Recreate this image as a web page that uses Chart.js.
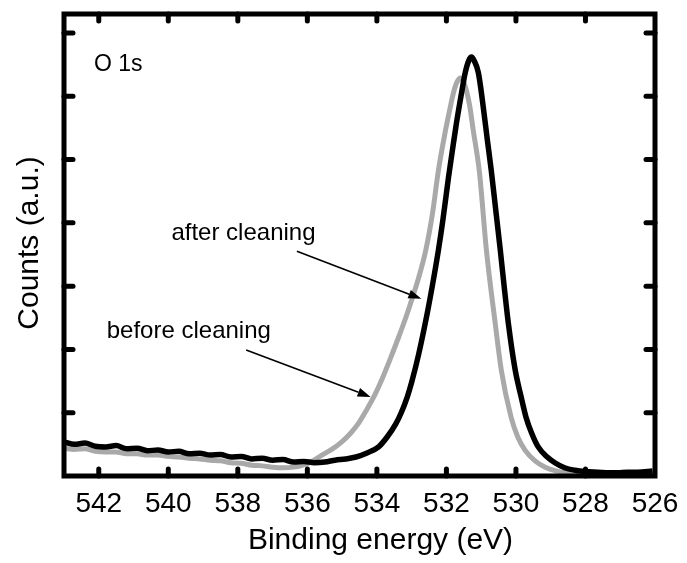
<!DOCTYPE html>
<html><head><meta charset="utf-8">
<script src="https://cdn.jsdelivr.net/npm/chart.js@4"></script>
<style>html,body{margin:0;padding:0;background:#fff}</style>
</head><body>
<canvas id="c" width="687" height="563"></canvas>
<script>
// ---- data (binding energy in eV, counts in arbitrary units) ----
const energyAfter = [543.0,542.7,542.4,542.1,541.8,541.5,541.2,540.9,540.6,540.3,540.0,539.7,539.4,539.1,538.8,538.5,538.2,537.9,537.6,537.3,537.0,536.7,536.4,536.1,535.8,535.5,535.2,534.9,534.6,534.3,533.95,533.7,533.46,533.3,533.12,533.0,532.8,532.57,532.4,532.23,532.1,531.94,531.8,531.71,531.55,531.46,531.36,531.28,531.2,531.08,530.94,530.82,530.71,530.58,530.45,530.33,530.22,530.02,529.85,529.71,529.55,529.36,529.1,528.88,528.6,528.3,528.0,527.64,527.3,527.07,526.8,526.5,526.07];
const countsAfter = [0.54,0.50,0.52,0.47,0.46,0.48,0.43,0.44,0.40,0.41,0.38,0.39,0.35,0.36,0.33,0.34,0.30,0.31,0.27,0.28,0.25,0.26,0.22,0.23,0.21,0.22,0.25,0.27,0.30,0.36,0.46,0.62,0.82,1.00,1.26,1.48,1.92,2.52,3.02,3.57,4.05,4.72,5.25,5.58,6.10,6.37,6.56,6.62,6.56,6.37,5.83,5.30,4.83,4.20,3.57,2.95,2.42,1.67,1.25,0.93,0.68,0.46,0.30,0.21,0.13,0.09,0.07,0.06,0.05,0.05,0.06,0.06,0.08];
const energyBefore = [543.0,542.7,542.4,542.1,541.8,541.5,541.2,540.9,540.6,540.3,540.0,539.7,539.4,539.1,538.8,538.5,538.2,537.9,537.6,537.3,537.0,536.7,536.4,536.15,535.9,535.58,535.3,535.01,534.75,534.52,534.3,534.06,533.86,533.58,533.37,533.17,533.03,532.8,532.6,532.4,532.23,532.03,531.9,531.8,531.7,531.6,531.5,531.43,531.33,531.23,531.05,530.85,530.6,530.42,530.14,529.95,529.74,529.45,529.16,528.85,528.59,528.0,527.65,527.0,526.5,526.07];
const countsBefore = [0.44,0.42,0.43,0.39,0.38,0.38,0.35,0.35,0.33,0.33,0.31,0.30,0.28,0.27,0.25,0.24,0.21,0.20,0.17,0.16,0.14,0.13,0.14,0.17,0.22,0.33,0.42,0.54,0.68,0.84,1.04,1.28,1.52,1.90,2.20,2.50,2.73,3.13,3.55,4.15,4.83,5.45,5.80,6.05,6.22,6.29,6.22,6.10,5.85,5.47,4.80,3.57,2.43,1.67,0.93,0.62,0.41,0.24,0.14,0.08,0.05,0.04,0.03,0.04,0.05,0.05];
const seriesNames = ['after cleaning', 'before cleaning'];
const xTickValues = [542,540,538,536,534,532,530,528,526];
const xTickLabels = ['542','540','538','536','534','532','530','528','526'];
const yTickValues = [1,2,3,4,5,6,7];
const panelLabel = 'O 1s';
const xTitle = 'Binding energy (eV)';
const yTitle = 'Counts (a.u.)';
// annotation anchors in data coordinates [energy, counts]
const labelAfterAt = [539.91, 3.73];
const labelBeforeAt = [541.77, 2.18];
const panelLabelAt = [542.14, 6.40];
const arrowAfter = [[536.30, 3.55], [532.72, 2.80]];
const arrowBefore = [[537.76, 1.99], [534.18, 1.25]];

const FONT = '"Liberation Sans", Arial, Helvetica, sans-serif';

const decor = {
  id: 'decor',
  afterDatasetsDraw(chart) {
    const {ctx, chartArea: a, scales: {x, y}} = chart;
    ctx.save();
    // ticks (inward)
    ctx.strokeStyle = '#000';
    ctx.lineWidth = 5;
    ctx.lineCap = 'round';
    xTickValues.forEach(v => {
      const px = x.getPixelForValue(v);
      if (px < a.left + 6 || px > a.right - 6) return;
      ctx.beginPath(); ctx.moveTo(px, a.bottom); ctx.lineTo(px, a.bottom - 7); ctx.stroke();
      ctx.beginPath(); ctx.moveTo(px, a.top); ctx.lineTo(px, a.top + 7); ctx.stroke();
    });
    yTickValues.forEach(v => {
      const py = y.getPixelForValue(v);
      ctx.beginPath(); ctx.moveTo(a.left, py); ctx.lineTo(a.left + 9, py); ctx.stroke();
      ctx.beginPath(); ctx.moveTo(a.right, py); ctx.lineTo(a.right - 9, py); ctx.stroke();
    });
    // frame
    ctx.lineCap = 'butt';
    ctx.lineJoin = 'miter';
    ctx.lineWidth = 5;
    ctx.strokeRect(a.left, a.top, a.right - a.left, a.bottom - a.top);
    // tick labels
    ctx.fillStyle = '#000';
    ctx.font = '28px ' + FONT;
    ctx.textAlign = 'center';
    ctx.textBaseline = 'alphabetic';
    xTickValues.forEach((v, i) => {
      ctx.fillText(xTickLabels[i], x.getPixelForValue(v), a.bottom + 36);
    });
    // axis titles
    ctx.font = '30px ' + FONT;
    ctx.fillText(xTitle, (a.left + a.right) / 2 + 21, a.bottom + 73);
    ctx.save();
    ctx.translate(a.left - 26, (a.top + a.bottom) / 2 - 2);
    ctx.rotate(-Math.PI / 2);
    ctx.fillText(yTitle, 0, 0);
    ctx.restore();
    // annotations
    ctx.textAlign = 'left';
    ctx.font = '23px ' + FONT;
    ctx.fillText(panelLabel, x.getPixelForValue(panelLabelAt[0]), y.getPixelForValue(panelLabelAt[1]));
    ctx.font = '24px ' + FONT;
    ctx.fillText(seriesNames[0], x.getPixelForValue(labelAfterAt[0]), y.getPixelForValue(labelAfterAt[1]));
    ctx.fillText(seriesNames[1], x.getPixelForValue(labelBeforeAt[0]), y.getPixelForValue(labelBeforeAt[1]));
    // arrows
    [arrowAfter, arrowBefore].forEach(ar => {
      const x0 = x.getPixelForValue(ar[0][0]), y0 = y.getPixelForValue(ar[0][1]);
      const x1 = x.getPixelForValue(ar[1][0]), y1 = y.getPixelForValue(ar[1][1]);
      const ang = Math.atan2(y1 - y0, x1 - x0);
      const hl = 13, hw = 4.5;
      const bx = x1 - hl * Math.cos(ang), by = y1 - hl * Math.sin(ang);
      ctx.lineWidth = 1.6;
      ctx.beginPath(); ctx.moveTo(x0, y0); ctx.lineTo(bx, by); ctx.stroke();
      ctx.beginPath();
      ctx.moveTo(x1, y1);
      ctx.lineTo(bx + hw * Math.sin(ang), by - hw * Math.cos(ang));
      ctx.lineTo(bx - hw * Math.sin(ang), by + hw * Math.cos(ang));
      ctx.closePath(); ctx.fill();
    });
    ctx.restore();
  }
};

const toPts = (xs, ys) => xs.map((e, i) => ({x: e, y: ys[i]}));

new Chart(document.getElementById('c'), {
  type: 'line',
  data: {
    datasets: [
      {label: seriesNames[0], data: toPts(energyAfter, countsAfter), borderColor: '#000000', borderWidth: 5.5, pointRadius: 0, cubicInterpolationMode: 'monotone', order: 0},
      {label: seriesNames[1], data: toPts(energyBefore, countsBefore), borderColor: '#a9a9a9', borderWidth: 5, pointRadius: 0, cubicInterpolationMode: 'monotone', order: 1}
    ]
  },
  options: {
    responsive: false,
    animation: false,
    layout: {padding: {left: 64, right: 32, top: 14, bottom: 87}},
    plugins: {legend: {display: false}, tooltip: {enabled: false}},
    scales: {
      x: {type: 'linear', reverse: true, min: 526, max: 543, display: false},
      y: {min: 0, max: 7.3, display: false}
    }
  },
  plugins: [decor]
});
</script>
</body></html>
